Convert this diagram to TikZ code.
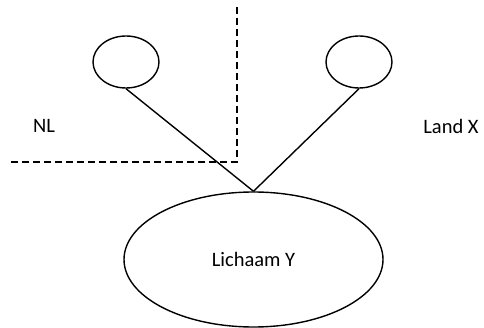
\documentclass[tikz,border=0pt]{standalone}
\usepackage{fontspec}
\setmainfont{Carlito}
\usetikzlibrary{shapes.geometric}
\begin{document}
\begin{tikzpicture}[x=1pt,y=-1pt,
  ell/.style={draw,ellipse,line width=1.4pt,inner sep=0pt},
  lbl/.style={font=\fontsize{20.5}{24}\selectfont},
  conn/.style={line width=1.4pt},
  border/.style={line width=1.3pt,dash pattern=on 7pt off 4pt}]
\useasboundingbox (0,0) rectangle (484,328);
\node[ell,minimum width=66pt,minimum height=52pt] (a) at (126,62) {};
\node[ell,minimum width=66pt,minimum height=52pt] (b) at (359,62) {};
\node[ell,minimum width=259pt,minimum height=135pt,lbl] (y) at (253.5,259.5) {Lichaam Y};
\node[lbl] (nl) at (44,126) {NL};
\node[lbl] (lx) at (451,126) {Land X};
\coordinate (d1) at (237,7);
\coordinate (d2) at (237,162);
\coordinate (d3) at (11,162);
\draw[border] (d1) -- (d2) -- (d3);
\draw[conn] (a.south) -- (y.north);
\draw[conn] (b.south) -- (y.north);
\end{tikzpicture}
\end{document}
